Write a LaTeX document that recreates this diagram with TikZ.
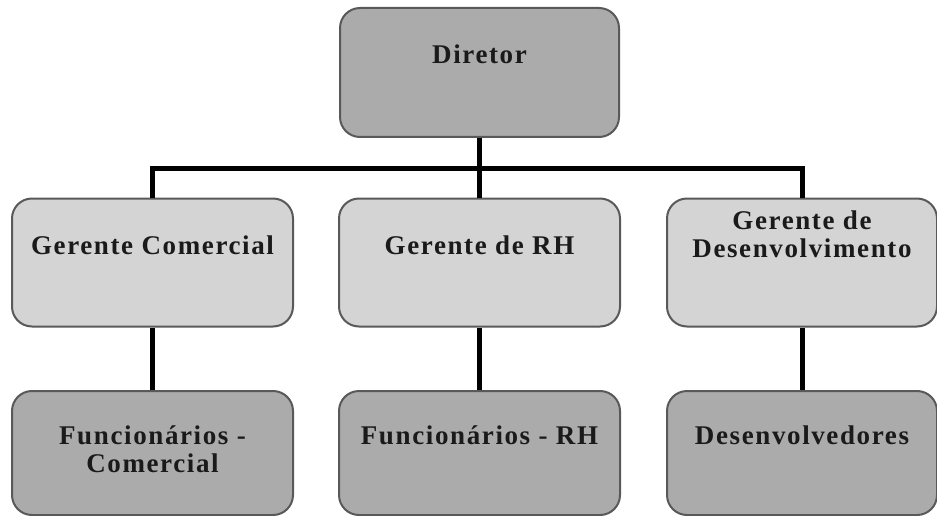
\documentclass[tikz,border=0pt]{standalone}
\usepackage{fontspec}
\setmainfont{Liberation Serif}[LetterSpace=6]
\definecolor{cinzaEscuro}{HTML}{ABABAB}
\definecolor{cinzaClaro}{HTML}{D4D4D4}
\definecolor{borda}{HTML}{595959}
\definecolor{letra}{HTML}{1A1A1A}
\begin{document}
\begin{tikzpicture}[x=1pt, y=-1pt,
	caixa/.style={rectangle, rounded corners=20pt, draw=borda, line width=2pt, minimum width=281pt, minimum height=128pt, inner sep=0pt, align=center, text=letra, text height=18pt, text depth=35pt, font=\fontsize{27}{28}\selectfont\bfseries},
	chefe/.style={caixa, fill=cinzaEscuro},
	gerente/.style={caixa, fill=cinzaClaro},
	equipe/.style={caixa, fill=cinzaEscuro, minimum height=124pt},
	ligacao/.style={line width=5pt, draw=black}]
	\useasboundingbox (0,0) rectangle (937,516);
	\node (dir) at (479.5,72.5)[chefe, minimum width=279pt, minimum height=129pt]{Diretor};
	\node (gc) at (152.5,262.5)[gerente]{Gerente Comercial};
	\node (grh) at (479.5,262.5)[gerente]{Gerente de RH};
	\node (gd) at (802,262.5)[gerente, minimum width=270pt, text depth=29pt]{Gerente de\\Desenvolvimento};
	\node (fc) at (152.5,453)[equipe, text height=46pt, text depth=8pt]{Funcionários -\\Comercial};
	\node (frh) at (479.5,453)[equipe]{Funcionários - RH};
	\node (dv) at (802,453)[equipe, minimum width=270pt]{Desenvolvedores};
	\coordinate (barra) at (479.5,168);
	\draw[ligacao] (dir) -- (grh);
	\draw[ligacao] (gc.north) |- (barra) -| (gd.north);
	\draw[ligacao] (gc) -- (fc);
	\draw[ligacao] (grh) -- (frh);
	\draw[ligacao] (gd) -- (dv);
\end{tikzpicture}
\end{document}
